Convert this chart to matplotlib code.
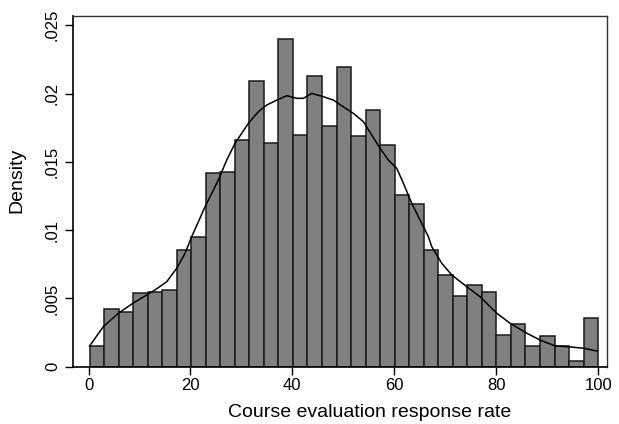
import matplotlib
matplotlib.use('Agg')
import matplotlib.pyplot as plt
import numpy as np

plt.rcParams['font.family'] = ['Liberation Sans', 'DejaVu Sans']

# histogram: 35 equal bins from the minimum response rate up to 100
bin_start = 0.2
bin_end = 100.0
density = [0.00151, 0.00425, 0.00403, 0.00537, 0.00549, 0.00561, 0.00854,
           0.00950, 0.01416, 0.01428, 0.01657, 0.02091, 0.01635, 0.02397,
           0.01698, 0.02130, 0.01762, 0.02196, 0.01689, 0.01879, 0.01625,
           0.01257, 0.01191, 0.00854, 0.00674, 0.00517, 0.00600, 0.00547,
           0.00232, 0.00315, 0.00149, 0.00222, 0.00149, 0.00042, 0.00359]

# kernel density curve
kde_x = [0.2, 2.9, 5.85, 8.7, 13.05, 15.35, 17.3, 18.94, 20.25, 22.87,
         25.48, 27.12, 28.75, 31.37, 33.33, 34.97, 36.94, 38.9, 40.86,
         42.16, 43.8, 46.08, 48.05, 50.0, 51.97, 53.94, 55.58, 57.21,
         58.84, 60.49, 61.79, 63.43, 65.06, 66.69, 67.36, 69.32, 71.29,
         74.23, 76.84, 80.12, 82.73, 86.0, 88.62, 91.56, 94.17, 97.12, 99.74]
kde_y = [0.00151, 0.00293, 0.00391, 0.00464, 0.00562, 0.00622, 0.00720,
         0.00830, 0.00952, 0.01171, 0.01367, 0.01513, 0.01635, 0.01782,
         0.01867, 0.01916, 0.01952, 0.01984, 0.01965, 0.01965, 0.02001,
         0.01977, 0.01952, 0.01903, 0.01855, 0.01794, 0.01696, 0.01599,
         0.01513, 0.01452, 0.01343, 0.01196, 0.01074, 0.00952, 0.00878,
         0.00757, 0.00671, 0.00586, 0.00512, 0.00391, 0.00318, 0.00245,
         0.00195, 0.00152, 0.00146, 0.00135, 0.00115]

x_ticks = [0, 20, 40, 60, 80, 100]
y_ticks = [0, 0.005, 0.01, 0.015, 0.02, 0.025]
y_tick_labels = ['0', '.005', '.01', '.015', '.02', '.025']

fig = plt.figure(figsize=(6.19, 4.24), dpi=100)
ax = fig.add_axes([72.5 / 619, 1 - 366.7 / 424, (607.3 - 72.5) / 619, (366.7 - 15.7) / 424])

width = (bin_end - bin_start) / len(density)
lefts = bin_start + width * np.arange(len(density))
ax.bar(lefts, density, width=width, align='edge', color='#808080',
       edgecolor='#1a1a1a', linewidth=1.1)
ax.plot(kde_x, kde_y, color='black', linewidth=1.1, solid_joinstyle='round')

ax.set_xlim(-3.14, 101.8)
ax.set_ylim(0, 0.0257)
ax.set_xticks(x_ticks)
ax.set_yticks(y_ticks)
ax.set_yticklabels(y_tick_labels, rotation=90, va='center')
ax.tick_params(axis='both', direction='out', length=6, width=1, labelsize=12,
               colors='black')
ax.tick_params(axis='y', pad=3)
ax.tick_params(axis='x', pad=2)

for side in ['left', 'bottom']:
    ax.spines[side].set_linewidth(1.2)
for side in ['top', 'right']:
    ax.spines[side].set_linewidth(1.0)
    ax.spines[side].set_color('#333333')

ax.set_xlabel('Course evaluation response rate', fontsize=14)
ax.set_ylabel('Density', fontsize=14)
ax.xaxis.set_label_coords((370 - 72.5) / (607.3 - 72.5), -(404 - 366.7) / (366.7 - 15.7), transform=ax.transAxes)
ax.xaxis.label.set_va('top')
ax.yaxis.set_label_coords(-(72.5 - 8) / (607.3 - 72.5), (366.7 - 180) / (366.7 - 15.7))
ax.yaxis.label.set_va('top')

fig.savefig('out.png', dpi=100)
